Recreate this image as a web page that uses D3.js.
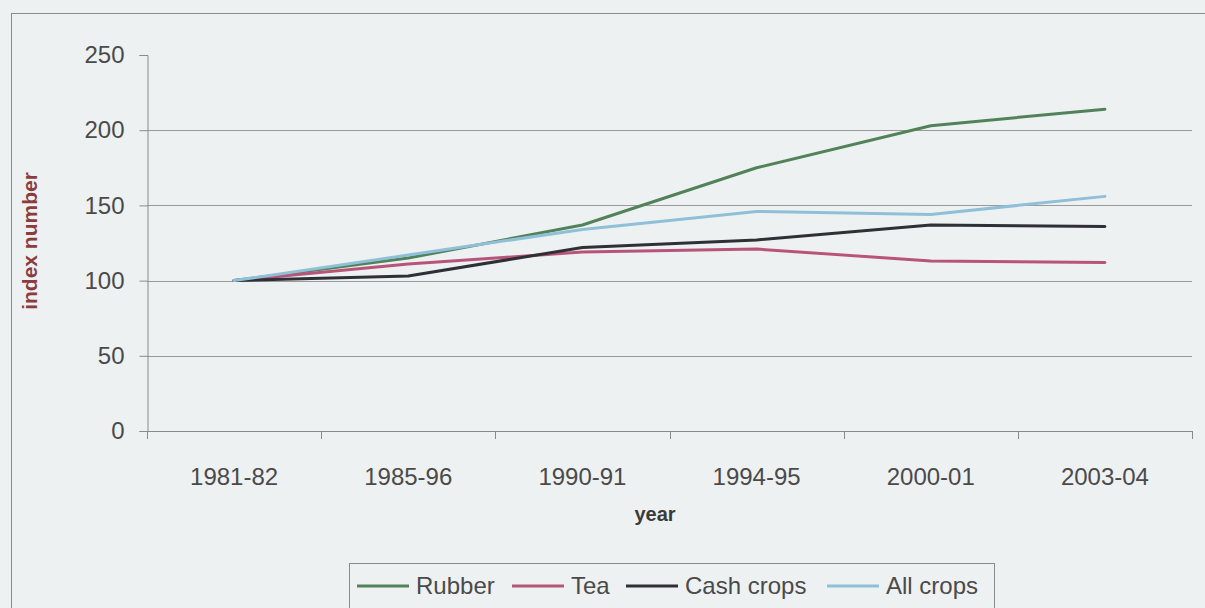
<!DOCTYPE html>
<html>
<head>
<meta charset="utf-8">
<script src="https://cdn.jsdelivr.net/npm/d3@7"></script>
<style>
  html, body { margin: 0; padding: 0; background: #eef1f2; }
  svg { display: block; }
  text { font-family: "Liberation Sans", Arial, sans-serif; }
</style>
</head>
<body>
<svg id="chart" width="1205" height="608"></svg>
<script>
const categories = ["1981-82", "1985-96", "1990-91", "1994-95", "2000-01", "2003-04"];
const rubber    = [100, 115, 137, 175, 203, 214];
const tea       = [100, 111, 119, 121, 113, 112];
const cashCrops = [100, 103, 122, 127, 137, 136];
const allCrops  = [100, 117, 134, 146, 144, 156];
const yTicks = [0, 50, 100, 150, 200, 250];
const seriesNames = ["Rubber", "Tea", "Cash crops", "All crops"];

const series = [
  { name: seriesNames[0], values: rubber,    color: "#528259" },
  { name: seriesNames[1], values: tea,       color: "#b85478" },
  { name: seriesNames[2], values: cashCrops, color: "#2f3035" },
  { name: seriesNames[3], values: allCrops,  color: "#8fc0d8" }
];

const svg = d3.select("#chart");
const plotLeft = 147, plotRight = 1192, plotTop = 55, plotBottom = 431;

// outer frame
svg.append("rect").attr("x", 11.5).attr("y", 13.5).attr("width", 1300).attr("height", 700)
  .attr("fill", "#eef1f2").attr("stroke", "#8a8a8a").attr("stroke-width", 1);

const x = d3.scaleBand().domain(categories).range([plotLeft, plotRight]).padding(0);
const y = d3.scaleLinear().domain([0, 250]).range([plotBottom, plotTop]);

// gridlines
svg.append("g").selectAll("line").data(yTicks.filter(t => t > 0 && t < 250)).join("line")
  .attr("x1", plotLeft).attr("x2", plotRight)
  .attr("y1", d => Math.round(y(d)) + 0.5).attr("y2", d => Math.round(y(d)) + 0.5)
  .attr("stroke", "#9a9a9a").attr("stroke-width", 1);

// y axis
const yAxis = svg.append("g").attr("transform", `translate(${plotLeft + 0.5},0)`)
  .call(d3.axisLeft(y).tickValues(yTicks).tickSize(8).tickPadding(15).tickFormat(d3.format("d")));
yAxis.select(".domain").attr("stroke", "#8a8a8a");
yAxis.selectAll(".tick line").attr("stroke", "#8a8a8a");
yAxis.selectAll(".tick text").attr("font-size", "24px").attr("fill", "#4a4a4a")
  .attr("font-family", "'Liberation Sans', Arial, sans-serif");

// x axis
const xAxis = svg.append("g").attr("transform", `translate(0,${plotBottom + 0.5})`)
  .call(d3.axisBottom(x).tickSize(0).tickPadding(36));
xAxis.select(".domain").attr("stroke", "#8a8a8a").attr("d", `M${plotLeft},0H${plotRight}`);
xAxis.selectAll(".tick text").attr("font-size", "24px").attr("fill", "#4a4a4a")
  .attr("font-family", "'Liberation Sans', Arial, sans-serif");
// tick marks at band boundaries
const bounds = categories.map(c => x(c)).concat([plotRight]);
svg.append("g").selectAll("line").data(bounds).join("line")
  .attr("x1", d => Math.round(d) + 0.5).attr("x2", d => Math.round(d) + 0.5)
  .attr("y1", plotBottom).attr("y2", plotBottom + 8)
  .attr("stroke", "#8a8a8a");

// axis titles
svg.append("text").attr("x", 655).attr("y", 521).attr("text-anchor", "middle")
  .attr("font-size", "20px").attr("font-weight", "bold").attr("fill", "#3a3a3a").text("year");
svg.append("text").attr("transform", "translate(37,241) rotate(-90)").attr("text-anchor", "middle")
  .attr("font-size", "21px").attr("font-weight", "bold").attr("fill", "#8b3d3d").text("index number");

// lines
const line = d3.line()
  .x((d, i) => x(categories[i]) + x.bandwidth() / 2)
  .y(d => y(d));
svg.append("g").selectAll("path").data(series).join("path")
  .attr("d", d => line(d.values))
  .attr("fill", "none").attr("stroke", d => d.color).attr("stroke-width", 3)
  .attr("stroke-linejoin", "round").attr("stroke-linecap", "round");

// legend
const lg = svg.append("g");
lg.append("rect").attr("x", 349.5).attr("y", 563.5).attr("width", 645).attr("height", 50)
  .attr("fill", "#eef1f2").attr("stroke", "#8a8a8a");
const legendX = [357, 512, 626, 827];
series.forEach((s, i) => {
  lg.append("line").attr("x1", legendX[i]).attr("x2", legendX[i] + 52)
    .attr("y1", 586).attr("y2", 586).attr("stroke", s.color).attr("stroke-width", 3);
  lg.append("text").attr("x", legendX[i] + 59).attr("y", 594)
    .attr("font-size", "24px").attr("fill", "#4a4a4a").text(s.name);
});
</script>
</body>
</html>
